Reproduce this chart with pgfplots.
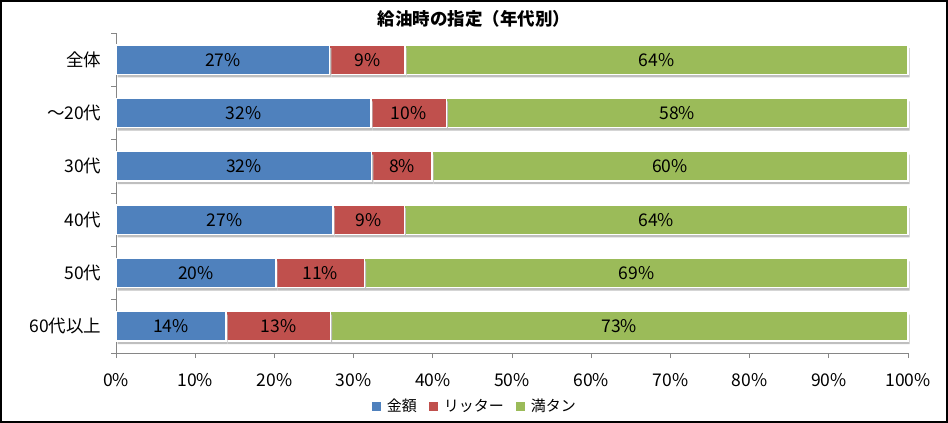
\documentclass[border=0pt]{standalone}
\usepackage{fontspec}
\setmainfont{Noto Sans CJK JP}
\usepackage{pgfplots}
\usepackage{pgfplotstable}
\pgfplotsset{compat=1.18}
\definecolor{cblue}{HTML}{4F81BD}
\definecolor{cred}{HTML}{C0504D}
\definecolor{cgreen}{HTML}{9BBB59}
\definecolor{axgray}{HTML}{868686}

\pgfplotstableread{
y a b c la lb lc
0 27.0 9.5 63.5 27 9 64
1 32.2 9.5 58.3 32 10 58
2 32.3 7.6 60.1 32 8 60
3 27.4 9.0 63.6 27 9 64
4 20.2 11.2 68.6 20 11 69
5 13.9 13.2 72.9 14 13 73
}\data

\pgfplotsset{
  common/.style={
    at={(116pt,70pt)}, anchor=south west, scale only axis,
    width=792pt, height=320pt,
    xmin=0, xmax=100, ymin=-0.5, ymax=5.5, y dir=reverse,
    /pgf/number format/assume math mode=true,
  },
  barsty/.style={fill=#1, draw=white, line width=1.2pt, forget plot,
    preaction={fill=black!25, draw=none, transform canvas={shift={(1.5pt,-3pt)}}}},
}

\begin{document}
\begin{tikzpicture}[x=1pt,y=1pt]
\useasboundingbox (0,0) rectangle (948,423);
\draw[line width=2pt] (1,1) rectangle (947,422);
\node[font=\bfseries\fontsize{17.5}{20}\selectfont] at (474,404) {給油時の指定（年代別）};
\begin{axis}[common,
  xbar stacked, bar width=0.55,
  axis x line*=bottom, axis y line*=left,
  axis line style={axgray, line width=0.8pt},
  tick align=outside, major tick length=5pt, minor tick length=5pt,
  xtick={0,10,...,100},
  xticklabel={\pgfmathprintnumber{\tick}\%},
  xtick style={axgray, line width=0.8pt},
  ytick={0,...,5},
  yticklabels={全体,～20代,30代,40代,50代,60代以上},
  minor ytick={-0.5,0.5,...,5.5},
  every major y tick/.append style={draw=none},
  every minor y tick/.append style={axgray, line width=0.8pt},
  ticklabel style={font=\fontsize{17.5}{20}\selectfont, text=black},
  xticklabel style={yshift=-12pt},
  yticklabel style={xshift=-6pt},
  legend style={at={(0.453,-0.166)}, anchor=center, draw=none, fill=none,
    font=\fontsize{15}{18}\selectfont, legend columns=-1,
    /tikz/every odd column/.append style={column sep=4pt},
    /tikz/every even column/.append style={column sep=10pt}},
  legend image code/.code={\fill[#1,draw=none] (0pt,-4.5pt) rectangle (9pt,4.5pt);},
  clip=false,
]
\addplot[barsty=cblue] table[x=a, y=y]{\data};
\addplot[barsty=cred] table[x=b, y=y]{\data};
\addplot[barsty=cgreen] table[x=c, y=y]{\data};
\addlegendimage{fill=cblue}
\addlegendimage{fill=cred}
\addlegendimage{fill=cgreen}
\legend{金額,リッター,満タン}
\end{axis}
\begin{axis}[common, hide axis, clip=false,
  nodes near coords={\pgfmathprintnumber[fixed,precision=0]{\pgfplotspointmeta}\%},
  every node near coord/.append style={anchor=center, font=\fontsize{17.5}{20}\selectfont, text=black},
]
\addplot[draw=none, mark=none, point meta=\thisrow{la}] table[x expr=\thisrow{a}/2, y=y]{\data};
\addplot[draw=none, mark=none, point meta=\thisrow{lb}] table[x expr=\thisrow{a}+\thisrow{b}/2, y=y]{\data};
\addplot[draw=none, mark=none, point meta=\thisrow{lc}] table[x expr=\thisrow{a}+\thisrow{b}+\thisrow{c}/2, y=y]{\data};
\end{axis}
\end{tikzpicture}
\end{document}
